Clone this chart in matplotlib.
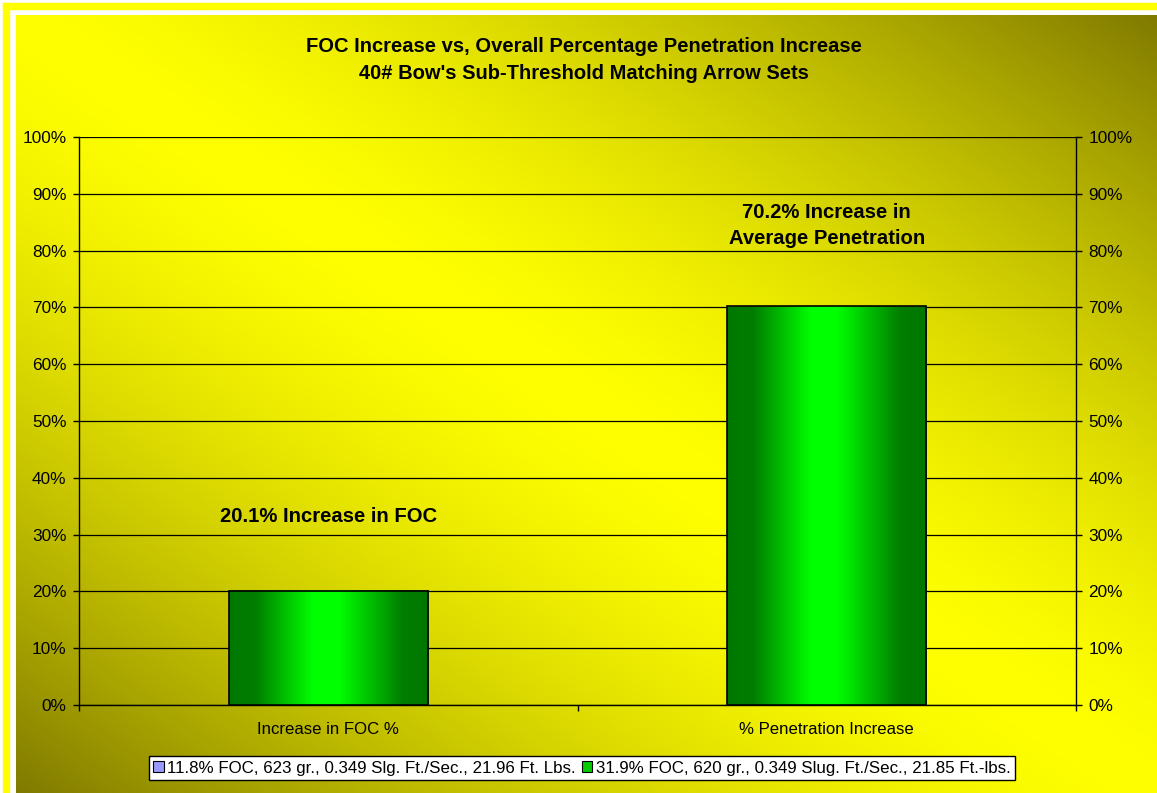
import numpy as np
import matplotlib
matplotlib.use("Agg")
import matplotlib.pyplot as plt
from matplotlib.patches import Rectangle

plt.rcParams['font.family'] = ['Liberation Sans', 'DejaVu Sans']

# data
categories = ["Increase in FOC %", "% Penetration Increase"]
series_names = ["11.8% FOC, 623 gr., 0.349 Slg. Ft./Sec., 21.96 Ft. Lbs.",
                "31.9% FOC, 620 gr., 0.349 Slug. Ft./Sec., 21.85 Ft.-lbs."]
base_vals = [0.0, 0.0]
increase_vals = [20.1, 70.2]
notes = ["20.1% Increase in FOC", "70.2% Increase in\nAverage Penetration"]
yticks = list(range(0, 101, 10))

W, H = 1157, 793
fig = plt.figure(figsize=(W / 100, H / 100), dpi=100)
fig.patch.set_facecolor("white")

# outer yellow frame (only top and left visible)
fig.patches.append(Rectangle((3 / W, 0), 6 / W, 1 - 3 / H, transform=fig.transFigure,
                             color="#ffff00", zorder=0))
fig.patches.append(Rectangle((3 / W, 1 - 9 / H), 1, 6 / H, transform=fig.transFigure,
                             color="#ffff00", zorder=0))

# diagonal gradient background: yellow along the TL-BR diagonal, olive at the other corners
bg = fig.add_axes([16 / W, 0, 1 - 16 / W, 1 - 15 / H], zorder=-1)
u, v = np.meshgrid(np.linspace(0, 1, 400), np.linspace(0, 1, 300))
d = np.clip(np.abs(u - v), 0, 1) ** 1.5
r = (255 - 127 * d) / 255.0
gch = (255 - 133 * d) / 255.0
img = np.dstack([r, gch, np.zeros_like(r)])
bg.imshow(img, aspect="auto", extent=[0, 1, 0, 1], origin="upper")
bg.set_axis_off()

ax = fig.add_axes([79 / W, 1 - 705 / H, (1076 - 79) / W, (705 - 137) / H])
ax.patch.set_alpha(0)

x = np.arange(len(categories))
width = 0.4

# series 1 has no visible height
b1 = ax.bar(x, base_vals, width, color="#9999ff", edgecolor="black", linewidth=0, zorder=3)

# gradient green bars
t = np.linspace(0, 1, 256)
g = np.interp(t, [0, 0.13, 0.42, 0.55, 0.87, 1], [120, 125, 255, 255, 125, 120]) / 255.0
grad = np.dstack([np.zeros_like(g), g, np.zeros_like(g)]).repeat(2, axis=0)
for xi, val in zip(x, increase_vals):
    ax.imshow(grad, extent=[xi - width / 2, xi + width / 2, 0, val], aspect="auto", zorder=3)
b2 = ax.bar(x, increase_vals, width, facecolor="none", edgecolor="black", linewidth=1.2, zorder=4)

ax.set_xlim(-0.5, len(categories) - 0.5)
ax.set_ylim(0, 100)

# grid and axes
ax.set_yticks(yticks)
ax.set_yticklabels([f"{t}%" for t in yticks])
ax.yaxis.grid(True, color="black", linewidth=0.9, zorder=1)
ax.set_axisbelow(True)
ax.tick_params(axis="y", which="both", direction="out", length=4.5, width=1,
               labelsize=12.4, left=True, right=True, labelleft=True, labelright=True, pad=4.5)
ax.set_xticks(np.arange(-0.5, len(categories), 1.0))
ax.set_xticklabels([])
ax.set_xticks(x, minor=True)
ax.set_xticklabels(categories, minor=True)
ax.tick_params(axis="x", which="major", direction="out", length=4, width=1)
ax.tick_params(axis="x", which="minor", length=0, labelsize=12.1, pad=12)
for s in ["left", "right", "bottom"]:
    ax.spines[s].set_linewidth(1)
    ax.spines[s].set_color("black")
ax.spines["top"].set_visible(False)

# annotations above bars
ax.annotate(notes[0], (x[0], increase_vals[0]), xytext=(0, 74 * 0.72), textcoords="offset points",
            ha="center", va="center", fontsize=14.6, fontweight="bold")
ax.annotate(notes[1], (x[1], increase_vals[1]), xytext=(0, 81 * 0.72), textcoords="offset points",
            ha="center", va="center", fontsize=14.6, fontweight="bold", linespacing=1.5)

fig.text(584 / W, 1 - 60 / H,
         "FOC Increase vs, Overall Percentage Penetration Increase\n40# Bow's Sub-Threshold Matching Arrow Sets",
         ha="center", va="center", fontsize=14.5, fontweight="bold", linespacing=1.5)

leg_handles = [Rectangle((0, 0), 1, 1, facecolor="#9999ff", edgecolor="black", linewidth=0.8),
               Rectangle((0, 0), 1, 1, facecolor="#00cc00", edgecolor="black", linewidth=0.8)]
leg = fig.legend(leg_handles, series_names, loc="center", bbox_to_anchor=(582 / W, 1 - 768 / H),
                 ncol=2, fontsize=12.2, frameon=True, fancybox=False, handlelength=0.6,
                 handleheight=0.6, handletextpad=0.2, columnspacing=0.4, borderpad=0.25,
                 borderaxespad=0)
leg.get_frame().set_edgecolor("black")
leg.get_frame().set_linewidth(1)
leg.get_frame().set_facecolor("white")
leg.get_frame().set_alpha(1)

fig.savefig("out.png", dpi=100)
